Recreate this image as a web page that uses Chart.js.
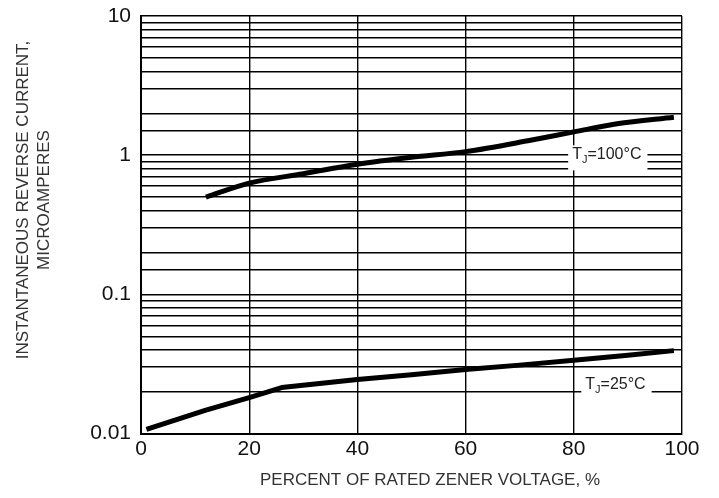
<!DOCTYPE html>
<html>
<head>
<meta charset="utf-8">
<script src="https://cdn.jsdelivr.net/npm/chart.js@4/dist/chart.umd.min.js"></script>
<style>
html,body{margin:0;padding:0;background:#fff;}
#wrap{width:719px;height:498px;position:relative;}
</style>
</head>
<body>
<div id="wrap"><canvas id="c" width="719" height="498"></canvas></div>
<script>
// ---- data ----
const x100 = [12, 20, 30, 40, 50, 60, 72, 80, 88, 98.5];
const y100 = [0.5, 0.63, 0.735, 0.86, 0.965, 1.06, 1.28, 1.47, 1.68, 1.87];
const x25 = [1, 12, 20, 26, 40, 50, 60, 70, 80, 90, 98.5];
const y25 = [0.0107, 0.0147, 0.0181, 0.0214, 0.0244, 0.0264, 0.0288, 0.031, 0.0336, 0.0365, 0.0394];
const xTicks = [0, 20, 40, 60, 80, 100];
const yTickLabels = [0.01, 0.1, 1, 10];
const seriesLabels = ['100°C', '25°C'];
const xTitle = 'PERCENT OF RATED ZENER VOLTAGE, %';
const yTitle = ['INSTANTANEOUS REVERSE CURRENT,', 'MICROAMPERES'];
// label anchors (data units)
const labelX = [86.1, 87.7];
const labelY = [1.03, 0.0232];

const FONT = '"Liberation Sans", Arial, sans-serif';

const toPts = (xs, ys) => xs.map((v, i) => ({x: v, y: ys[i]}));

const annotate = {
  id: 'annotate',
  beforeDatasetsDraw(chart) {
    const {ctx, scales: {x, y}} = chart;
    ctx.save();
    seriesLabels.forEach((lab, i) => {
      const px = x.getPixelForValue(labelX[i]);
      const py = y.getPixelForValue(labelY[i]);
      ctx.font = '16px ' + FONT;
      const wT = ctx.measureText('T').width;
      const wRest = ctx.measureText('=' + lab).width;
      ctx.font = '11px ' + FONT;
      const wJ = ctx.measureText('J').width;
      const total = wT + wJ + wRest;
      const left = px - total / 2;
      ctx.fillStyle = '#fff';
      ctx.fillRect(left - 4, py - 8, total + 10, 25);
      ctx.fillStyle = '#222';
      ctx.textBaseline = 'alphabetic';
      ctx.textAlign = 'left';
      ctx.font = '16px ' + FONT;
      ctx.fillText('T', left, py + 6);
      ctx.font = '11px ' + FONT;
      ctx.fillText('J', left + wT, py + 10);
      ctx.font = '16px ' + FONT;
      ctx.fillText('=' + lab, left + wT + wJ, py + 6);
    });
    ctx.restore();
  },
  afterDraw(chart) {
    const {ctx} = chart;
    ctx.save();
    ctx.fillStyle = '#333';
    ctx.font = '17px ' + FONT;
    ctx.textAlign = 'center';
    ctx.textBaseline = 'middle';
    ctx.fillText(xTitle, 430, 480);
    ctx.translate(0, 200);
    ctx.rotate(-Math.PI / 2);
    ctx.fillText(yTitle[0], 0, 23);
    ctx.fillText(yTitle[1], 0, 44);
    ctx.restore();
  }
};

const isDecade = v => Math.abs(Math.log10(v) - Math.round(Math.log10(v))) < 1e-6;

new Chart(document.getElementById('c'), {
  type: 'line',
  data: {
    datasets: [
      {label: seriesLabels[0], data: toPts(x100, y100), cubicInterpolationMode: 'monotone'},
      {label: seriesLabels[1], data: toPts(x25, y25), tension: 0}
    ]
  },
  options: {
    responsive: false,
    animation: false,
    devicePixelRatio: 1,
    layout: {padding: {top: 16, right: 37, left: 0, bottom: 0}},
    elements: {
      line: {borderColor: '#000', borderWidth: 5, borderCapStyle: 'butt', borderJoinStyle: 'round'},
      point: {radius: 0, hoverRadius: 0}
    },
    plugins: {legend: {display: false}, tooltip: {enabled: false}},
    scales: {
      x: {
        type: 'linear', min: 0, max: 100,
        afterFit: s => { s.height = 64.5; s.paddingLeft = 0; s.paddingRight = 0; },
        afterBuildTicks: s => { s.ticks = xTicks.map(v => ({value: v})); },
        ticks: {color: '#111', font: {size: 21, family: FONT}, padding: 3, maxRotation: 0},
        grid: {color: '#000', lineWidth: 1.4, drawTicks: false},
        border: {color: '#000', width: 2}
      },
      y: {
        type: 'logarithmic', min: 0.01, max: 10,
        afterFit: s => { s.width = 141; s.paddingTop = 0; s.paddingBottom = 0; },
        ticks: {
          autoSkip: false, color: '#111', font: {size: 21, family: FONT}, padding: 10,
          callback: v => (isDecade(v) && yTickLabels.some(t => Math.abs(t - v) < 1e-9)) ? String(v) : ''
        },
        grid: {color: '#000', lineWidth: 1.4, drawTicks: false},
        border: {color: '#000', width: 2}
      }
    }
  },
  plugins: [annotate]
});
</script>
</body>
</html>
